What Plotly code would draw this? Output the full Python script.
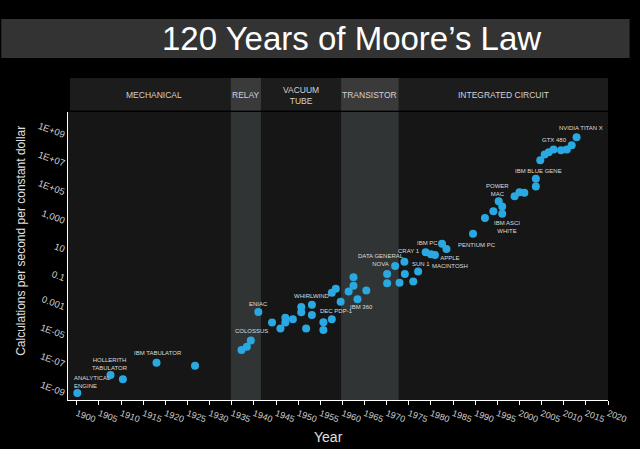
import math
import plotly.graph_objects as go

# ---------------- data ----------------
years = [1900.1, 1907.6, 1910.4, 1918.0, 1926.7, 1937.2, 1938.4, 1939.3, 1941.0, 1944.1,
         1946.0, 1947.1, 1947.1, 1948.8, 1950.7, 1950.7, 1951.8, 1953.1, 1953.1, 1955.7,
         1955.7, 1957.6, 1957.6, 1958.5, 1959.6, 1961.4, 1962.5, 1962.5, 1963.4, 1965.4,
         1970.1, 1970.1, 1971.9, 1972.9, 1974.0, 1974.1, 1976.0, 1977.1, 1978.8, 1980.0,
         1980.9, 1982.5, 1983.5, 1989.5, 1992.2, 1994.1, 1995.3, 1996.1, 1996.1, 1998.9,
         2000.0, 2001.1, 2003.7, 2003.7, 2004.7, 2005.7, 2006.6, 2007.7, 2009.4, 2010.7,
         2011.8, 2012.9]
calcs = [1.0e-9, 1.8e-8, 9.1e-9, 1.3e-7, 7.9e-8, 1.0e-6, 1.7e-6, 4.5e-6, 4.5e-4, 8.1e-5,
         3.2e-5, 1.8e-4, 8.1e-5, 1.4e-4, 1.0e-3, 4.3e-4, 3.2e-5, 1.4e-3, 2.8e-4, 8.5e-5,
         2.5e-5, 1.4e-4, 1.0e-2, 1.9e-2, 2.3e-3, 1.2e-2, 3.0e-2, 1.2e-1, 3.5e-3, 1.4e-2,
         4.5e-2, 2.0e-1, 7.2e-1, 4.8e-2, 1.4, 2.0e-1, 5.9e-2, 3.0e-1, 6.6, 4.8,
         4.3, 26, 11, 130, 1600, 4800, 2.4e4, 1.0e4, 3.2e3, 5.2e4,
         1.0e5, 9.1e4, 2.5e5, 8.9e5, 1.7e7, 4.3e7, 6.3e7, 9.5e7, 8.7e7, 9.5e7,
         1.9e8, 6.9e8]

label_names = ["ANALYTICAL<br>ENGINE", "HOLLERITH<br>TABULATOR", "IBM TABULATOR", "ENIAC",
               "COLOSSUS", "WHIRLWIND", "DEC PDP-1", "IBM 360", "DATA GENERAL<br>NOVA",
               "CRAY 1", "SUN 1", "IBM PC", "APPLE<br>MACINTOSH", "PENTIUM PC",
               "POWER<br>MAC", "IBM ASCI<br>WHITE", "IBM BLUE GENE", "GTX 480", "NVIDIA TITAN X"]
label_years = [1899.0, 1907.6, 1918.3, 1941.1, 1939.5, 1953.2, 1958.7, 1964.2, 1968.7,
               1975.1, 1977.7, 1979.3, 1984.3, 1990.5, 1995.0, 1997.2, 2004.4, 2007.8, 2014.0]
label_values = [5.4e-9, 1.0e-7, 6.2e-7, 1.6e-3, 2.2e-5, 5.9e-3, 5.2e-4, 1.0e-3, 1.8,
                8.5, 1.0, 28, 1.3, 22, 1.5e5, 350, 3.2e6, 4.1e8, 3.1e9]

era_names = ["MECHANICAL", "RELAY", "VACUUM<br>TUBE", "TRANSISTOR", "INTEGRATED CIRCUIT"]
era_start = [1900, 1934.8, 1941.6, 1959.7, 1972.7]
era_end = [1934.8, 1941.6, 1959.7, 1972.7, 2020]
era_shaded = [False, True, False, True, False]

y_tickvals = [1e-9, 1e-7, 1e-5, 1e-3, 1e-1, 1e1, 1e3, 1e5, 1e7, 1e9]
y_ticktext = ["1E-09", "1E-07", "1E-05", "0.001", "0.1", "10", "1,000", "1E+05", "1E+07", "1E+09"]

# ---------------- layout geometry ----------------
W, H = 640, 449
L, R, T, B = 68, 22, 112, 49
PW, PH = W - L - R, H - T - B
XR = [1898, 2020]
FONT = "Liberation Sans, Arial, sans-serif"


def pxx(px):
    return (px - L) / PW


def pxy(py):
    return (H - B - py) / PH


fig = go.Figure()
fig.add_trace(go.Scatter(
    x=years, y=calcs, mode="markers",
    marker=dict(size=8, color="#2aa8e2", line=dict(width=0)),
    hoverinfo="x+y", showlegend=False))

shapes = []
annotations = []

# title band
shapes.append(dict(type="rect", xref="paper", yref="paper", x0=pxx(0), x1=pxx(W),
                   y0=pxy(58), y1=pxy(19), fillcolor="#333333", line=dict(width=0), layer="below"))
annotations.append(dict(xref="paper", yref="paper", x=pxx(357), y=pxy(39), text="120 Years of Moore’s Law",
                        showarrow=False, font=dict(family=FONT, size=33, color="#ffffff"),
                        xanchor="center", yanchor="middle"))

# header band
shapes.append(dict(type="rect", xref="paper", yref="paper", x0=pxx(70), x1=1.0,
                   y0=pxy(110.5), y1=pxy(78), fillcolor="#1c1c1c", line=dict(width=0), layer="below"))
for name, s, e, sh in zip(era_names, era_start, era_end, era_shaded):
    if sh:
        shapes.append(dict(type="rect", xref="paper", yref="paper",
                           x0=(s - XR[0]) / (XR[1] - XR[0]), x1=(e - XR[0]) / (XR[1] - XR[0]),
                           y0=pxy(110.5), y1=pxy(78), fillcolor="#3a3a3a", line=dict(width=0), layer="below"))
        shapes.append(dict(type="rect", xref="x", yref="paper", x0=s, x1=e, y0=0, y1=1,
                           fillcolor="#313435", line=dict(width=0), layer="below"))
    annotations.append(dict(xref="x", yref="paper", x=(s + e) / 2, y=pxy(95), text=name,
                            showarrow=False, font=dict(family=FONT, size=8.5, color="#d2d2d2"),
                            xanchor="center", yanchor="middle"))

# point labels
for i, (name, yr, v) in enumerate(zip(label_names, label_years, label_values)):
    annotations.append(dict(xref="x", yref="y", x=yr, y=math.log10(v), text=name,
                            showarrow=False, align="left" if i == 0 else "center",
                            xanchor="left" if i == 0 else "center", yanchor="middle",
                            font=dict(family=FONT, size=6, color="#dcdcdc")))

# axis titles
annotations.append(dict(xref="paper", yref="paper", x=pxx(333), y=pxy(437), text="Year",
                        showarrow=False, font=dict(family=FONT, size=14, color="#e0e0e0"),
                        xanchor="center", yanchor="middle"))
annotations.append(dict(xref="paper", yref="paper", x=pxx(20), y=pxy(241),
                        text="Calculations per second per constant dollar", textangle=-90,
                        showarrow=False, font=dict(family=FONT, size=12, color="#e0e0e0"),
                        xanchor="center", yanchor="middle"))

fig.update_layout(
    width=W, height=H,
    margin=dict(l=L, r=R, t=T, b=B, pad=0),
    paper_bgcolor="#000000", plot_bgcolor="#161616",
    shapes=shapes, annotations=annotations,
    font=dict(family=FONT, color="#dddddd"),
    xaxis=dict(range=XR, tick0=1900, dtick=5, ticks="outside", ticklen=4, tickcolor="#ffffff",
               showline=True, linecolor="#ffffff", linewidth=1, showgrid=False, zeroline=False,
               tickangle=20, tickfont=dict(family=FONT, size=9, color="#d0d0d0")),
    yaxis=dict(type="log", range=[-9.49, 10.6], tickvals=y_tickvals, ticktext=y_ticktext,
               ticks="", showline=True, linecolor="#ffffff", linewidth=1, showgrid=False,
               zeroline=False, tickangle=20, tickfont=dict(family=FONT, size=9.5, color="#d0d0d0")),
)

fig.write_html("out.html")
